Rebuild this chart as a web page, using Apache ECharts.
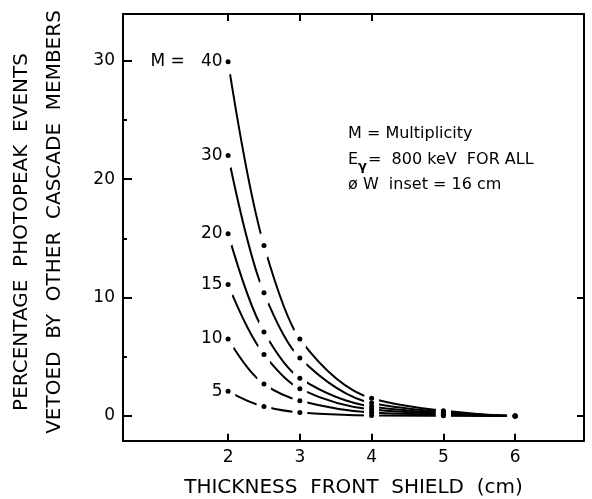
<!DOCTYPE html>
<html><head><meta charset="utf-8">
<script src="https://cdn.jsdelivr.net/npm/echarts@6/dist/echarts.min.js"></script>
<style>html,body{margin:0;padding:0;background:#fff}#c{width:592px;height:499px}</style>
</head><body><div id="c"></div>
<script>
// ---- data ----
const thickness = [2, 2.5, 3, 4, 5, 6];
const multiplicities = [40, 30, 20, 15, 10, 5];
const vetoM40 = [29.9, 14.4, 6.5, 1.5, 0.45, 0];
const vetoM30 = [22.0, 10.4, 4.9, 1.1, 0.35, 0];
const vetoM20 = [15.4, 7.1, 3.2, 0.8, 0.25, 0];
const vetoM15 = [11.1, 5.2, 2.3, 0.55, 0.18, 0];
const vetoM10 = [6.5, 2.7, 1.3, 0.3, 0.1, 0];
const vetoM5  = [2.1, 0.8, 0.3, 0.05, 0.02, 0];
const xTickValues = [2, 3, 4, 5, 6];
const xTopTickValues = [2, 3, 4];
const yTickValues = [0, 10, 20, 30];
const yMinorTickValues = [5, 15, 25];
const yRightTickValues = [0, 10];

const curves = [vetoM40, vetoM30, vetoM20, vetoM15, vetoM10, vetoM5];
const FONT = '"DejaVu Sans", sans-serif';
const X_MIN = 0.535, X_MAX = 6.96, Y_MIN = -2.08, Y_MAX = 33.94;

// monotone cubic (PCHIP) path through pixel points
function pchipPath(P) {
  const n = P.length;
  const h = [], d = [];
  for (let k = 0; k < n - 1; k++) {
    h.push(P[k + 1][0] - P[k][0]);
    d.push((P[k + 1][1] - P[k][1]) / h[k]);
  }
  const m = new Array(n).fill(0);
  for (let k = 1; k < n - 1; k++) {
    if (d[k - 1] * d[k] > 0) {
      const w1 = 2 * h[k] + h[k - 1], w2 = h[k] + 2 * h[k - 1];
      m[k] = (w1 + w2) / (w1 / d[k - 1] + w2 / d[k]);
    }
  }
  function endSlope(h0, h1, d0, d1) {
    let s = ((2 * h0 + h1) * d0 - h0 * d1) / (h0 + h1);
    if (Math.sign(s) !== Math.sign(d0)) s = 0;
    else if (Math.sign(d0) !== Math.sign(d1) && Math.abs(s) > Math.abs(3 * d0)) s = 3 * d0;
    return s;
  }
  m[0] = endSlope(h[0], h[1], d[0], d[1]);
  m[n - 1] = endSlope(h[n - 2], h[n - 3], d[n - 2], d[n - 3]);
  let s = 'M' + P[0][0] + ',' + P[0][1];
  for (let k = 0; k < n - 1; k++) {
    const t = h[k] / 3;
    s += 'C' + (P[k][0] + t) + ',' + (P[k][1] + m[k] * t) + ',' +
      (P[k + 1][0] - t) + ',' + (P[k + 1][1] - m[k + 1] * t) + ',' +
      P[k + 1][0] + ',' + P[k + 1][1];
  }
  return s;
}

const series = [];
series.push({
  type: 'custom', silent: true, z: 2, clip: true,
  encode: { x: 0, y: 1 },
  data: curves.map((c, i) => [thickness[0], c[0], i]),
  renderItem: function (params, api) {
    const i = api.value(2);
    const pts = thickness.map((x, j) => api.coord([x, curves[i][j]]));
    return { type: 'path', shape: { pathData: pchipPath(pts) },
      style: { stroke: '#000', lineWidth: 2, fill: null } };
  }
});
const allPts = [];
curves.forEach((vals, i) => thickness.forEach((x, j) => allPts.push({
  value: [x, vals[j]],
  label: j === 0 ? {
    show: true, position: 'left', distance: 3, color: '#000',
    fontFamily: FONT, fontSize: 17,
    formatter: (multiplicities[i] === 40 ? 'M =   ' : '') + multiplicities[i]
  } : { show: false }
})));
series.push({
  type: 'scatter', silent: true, z: 3,
  symbol: 'path://M0,-1C0.55,-1,1,-0.55,1,0C1,0.55,0.55,1,0,1C-0.55,1,-1,0.55,-1,0C-1,-0.55,-0.55,-1,0,-1Z',
  symbolSize: [15, 26],
  itemStyle: { color: '#fff', opacity: 1 },
  data: allPts.map(p => p.value)
});
series.push({
  type: 'scatter', silent: true, z: 4,
  symbol: 'circle', symbolSize: 5,
  itemStyle: { color: '#000', opacity: 1 },
  data: allPts
});

const axisLine = { show: true, onZero: false, lineStyle: { color: '#000', width: 2 } };

const option = {
  animation: false,
  backgroundColor: '#fff',
  grid: { left: 123, right: 8, top: 14, bottom: 58.3, containLabel: false, outerBoundsMode: 'none' },
  xAxis: [
    { type: 'value', position: 'bottom', min: X_MIN, max: X_MAX,
      axisLine,
      axisTick: { show: true, inside: true, length: 7, customValues: xTickValues, lineStyle: { color: '#000', width: 2 } },
      axisLabel: { show: true, customValues: xTickValues, margin: 8, color: '#000', fontFamily: FONT, fontSize: 17 },
      splitLine: { show: false },
      name: 'THICKNESS  FRONT  SHIELD  (cm)', nameLocation: 'middle', nameGap: 37,
      nameTextStyle: { color: '#000', fontFamily: FONT, fontSize: 20 } },
    { type: 'value', position: 'top', min: X_MIN, max: X_MAX,
      axisLine,
      axisTick: { show: true, inside: true, length: 7, customValues: xTopTickValues, lineStyle: { color: '#000', width: 2 } },
      axisLabel: { show: false }, splitLine: { show: false } }
  ],
  yAxis: [
    { type: 'value', position: 'left', min: Y_MIN, max: Y_MAX,
      axisLine,
      axisTick: { show: true, inside: true, length: 9, customValues: yTickValues, lineStyle: { color: '#000', width: 2 } },
      axisLabel: { show: true, customValues: yTickValues, margin: 8, color: '#000', fontFamily: FONT, fontSize: 17 },
      splitLine: { show: false } },
    { type: 'value', position: 'left', min: Y_MIN, max: Y_MAX,
      axisLine,
      axisTick: { show: true, inside: true, length: 4, customValues: yMinorTickValues, lineStyle: { color: '#000', width: 2 } },
      axisLabel: { show: false }, splitLine: { show: false } },
    { type: 'value', position: 'right', min: Y_MIN, max: Y_MAX,
      axisLine,
      axisTick: { show: true, inside: true, length: 7, customValues: yRightTickValues, lineStyle: { color: '#000', width: 2 } },
      axisLabel: { show: false }, splitLine: { show: false } }
  ],
  graphic: [
    { type: 'text', x: 22, y: 232, rotation: Math.PI / 2,
      style: { text: 'PERCENTAGE  PHOTOPEAK  EVENTS', font: '20px ' + FONT, fill: '#000',
        align: 'center', verticalAlign: 'middle', textAlign: 'center', textVerticalAlign: 'middle' } },
    { type: 'text', x: 55, y: 222, rotation: Math.PI / 2,
      style: { text: 'VETOED  BY  OTHER  CASCADE  MEMBERS', font: '20px ' + FONT, fill: '#000',
        align: 'center', verticalAlign: 'middle', textAlign: 'center', textVerticalAlign: 'middle' } },
    { type: 'text', x: 348, y: 134,
      style: { text: 'M = Multiplicity', font: '16px ' + FONT, fill: '#000', verticalAlign: 'middle', textVerticalAlign: 'middle' } },
    { type: 'text', x: 348, y: 160,
      style: { text: 'E', font: '16px ' + FONT, fill: '#000', verticalAlign: 'middle', textVerticalAlign: 'middle' } },
    { type: 'text', x: 358, y: 167,
      style: { text: 'γ', font: 'bold 13px ' + FONT, fill: '#000', verticalAlign: 'middle', textVerticalAlign: 'middle' } },
    { type: 'text', x: 368, y: 160,
      style: { text: '=  800 keV  FOR ALL', font: '16px ' + FONT, fill: '#000', verticalAlign: 'middle', textVerticalAlign: 'middle' } },
    { type: 'text', x: 348, y: 185,
      style: { text: 'ø W  inset = 16 cm', font: '16px ' + FONT, fill: '#000', verticalAlign: 'middle', textVerticalAlign: 'middle' } }
  ],
  series
};
const chart = echarts.init(document.getElementById('c'), null, { renderer: 'canvas' });
chart.setOption(option);
</script>
</body></html>
